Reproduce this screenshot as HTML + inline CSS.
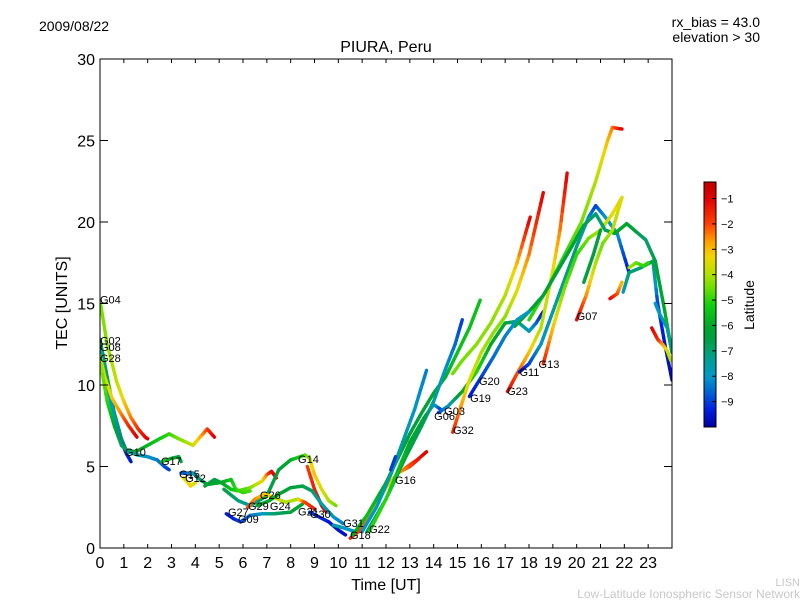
<!DOCTYPE html>
<html><head><meta charset="utf-8"><style>
body{margin:0;background:#fff;}
svg text{font-family:"Liberation Sans","DejaVu Sans",sans-serif;}
</style></head><body>
<svg id="chart" width="800" height="600" xmlns="http://www.w3.org/2000/svg">
<defs>
<linearGradient id="jet" x1="0" y1="1" x2="0" y2="0"></linearGradient>
<clipPath id="clip"><rect x="100" y="59" width="572" height="489"/></clipPath>
</defs>
<text x="39" y="31" font-size="14">2009/08/22</text>
<text x="760" y="27" font-size="14" text-anchor="end">rx_bias = 43.0</text>
<text x="760" y="42" font-size="14" text-anchor="end">elevation &gt; 30</text>
<text x="386" y="52" font-size="16" text-anchor="middle">PIURA, Peru</text>
<g id="tracks" clip-path="url(#clip)"></g>
<g id="labels"></g>
<rect x="100" y="59" width="572" height="489" fill="none" stroke="#000" stroke-width="1"/>
<g id="axes"></g>
<text x="386" y="590" font-size="16" text-anchor="middle">Time [UT]</text>
<text x="0" y="0" font-size="16" text-anchor="middle" transform="translate(67,303) rotate(-90)">TEC [UNITS]</text>
<rect x="704" y="182" width="12" height="245" fill="url(#jet)" stroke="#000" stroke-width="1"/>
<g id="cbticks"></g>
<text x="0" y="0" font-size="14" text-anchor="middle" transform="translate(754,305) rotate(-90)">Latitude</text>
<text x="800" y="586" font-size="11" fill="#c8c8c8" text-anchor="end">LISN</text>
<text x="800" y="598" font-size="12" fill="#c8c8c8" text-anchor="end">Low-Latitude Ionospheric Sensor Network</text>
</svg>
<script>
const xTicks=[0,1,2,3,4,5,6,7,8,9,10,11,12,13,14,15,16,17,18,19,20,21,22,23];
const yTicks=[0,5,10,15,20,25,30];
const cbTicks=[-1,-2,-3,-4,-5,-6,-7,-8,-9];
const trackNames=["G04","G02","G08","G28","G10","G17","G15","G12","W1","G14","G14b","G27","G26","G24","G30","G31","R1","R2","R3","R4","G16","R5","R6","G03","J1","G32","G23","G11","TOP","G13","DG","G07","Q1","R7","S1","T1","U1","V1","G19"];
const trackTimes=[
[0,0.3,0.7,1.0,1.3,1.6,1.9,2.0],
[0,0.3,0.6,0.9,1.1,1.5,2.0,2.5,2.9,3.3,3.9,4.2,4.5,4.8],
[0,0.3,0.6,0.9,1.1,1.3],
[0,0.2,0.5,0.9,1.2,1.55],
[0,0.3,0.6,0.9,1.2,1.6,2.0,2.4,2.7,2.9],
[2.6,3.0,3.3,3.4],
[3.4,3.7,3.9,4.2,4.5,5.0,5.5,5.7,6.0,6.3],
[3.5,3.7,3.8,4.0],
[4.4,4.8,5.1,5.5,5.8,6.3,6.8,7.0,7.2,7.4],
[5.2,5.8,6.3,7.0,7.5,8.0,8.6,8.8,9.0,9.3,9.6,9.9],
[8.7,9.0,9.3,9.5],
[5.3,5.6,5.9,6.3,6.8,7.3,8.0,8.5],
[6.2,6.5,6.9,7.3,7.8,8.3,8.6,9.0],
[6.6,7.1,7.5,8.0,8.5,8.9,9.3,9.8,10.2],
[8.8,9.2,9.6,10.0,10.3],
[9.8,10.3,10.7,11.0],
[10.5,11,11.5,12,12.5,13,13.4],
[10.6,11.2,12,12.5,13,13.5,14,14.5,15,15.5,15.95],
[11,11.6,12.2,12.7,13.2,13.7],
[11.2,12,12.8,13.5,14,14.5,14.9,15.2],
[12.2,12.4],
[12.8,13.3,13.7],
[11.3,12,13,13.6,14.0,14.3],
[14.2,14.6,15.2,15.8,16.4,17.0,17.5,18.0,18.3,18.6],
[14.8,15.2,15.8,16.4,17.0,17.5,18.05],
[14.8,15.1,15.5,16.0,16.5,17.0,17.5,18.0,18.6],
[17.1,17.5,18.0,18.5,19.0,19.3,19.6],
[17.6,18.0,18.5,19.0,19.5,20.0,20.5,20.8,21.2,21.7,22.2],
[18.0,18.8,19.5,20.2,20.8,21.3,21.5,21.9],
[18.6,19.0,19.5,20.0,20.5,21.0,21.5,21.9],
[17.4,18,18.6,19.2,19.8,20.3,20.8,21.2,21.6,22.1,22.5,22.9,23.3,23.7,24],
[20.0,20.4,20.8,21.1,21.5,21.9],
[20.3,20.7,21.0],
[21.4,21.7,21.9],
[21.95,22.2,22.7,23.2,23.4,23.7,24],
[22.2,22.5,22.8,23.0],
[23.15,23.4,23.6,23.8,23.95],
[23.3,23.5,23.8,24],
[15.5,16,16.5,17,17.5,18]
];
const trackTec=[
[15.2,12.5,10.2,9.0,8.0,7.3,6.8,6.7],
[12.8,10.5,8.3,6.7,6.0,5.9,6.3,6.7,7.0,6.7,6.3,6.8,7.3,6.8],
[12.4,10,8,6.5,5.8,5.3],
[11.8,10.5,9.2,8.2,7.5,6.8],
[11.5,9,7.5,6.3,5.9,5.7,5.6,5.4,5.0,4.8],
[5.3,5.5,5.6,5.3],
[4.6,4.6,4.6,4.2,3.9,4.0,4.2,3.6,3.4,3.5],
[4.3,4.0,3.8,4.0],
[3.8,4.2,4.0,3.6,3.5,3.7,4.1,4.5,4.7,4.3],
[3.6,2.9,2.6,3.2,4.8,5.4,5.7,5.5,4.5,3.6,2.9,2.6],
[5,3.6,2.6,2.2],
[2.1,1.8,1.6,2.0,2.1,2.1,2.2,2.7],
[2.5,3.0,3.3,3.1,2.8,3.0,2.8,2.4],
[2.6,2.9,3.3,3.7,3.8,3.5,2.7,1.9,1.5],
[2.2,1.9,1.6,1.1,0.8],
[1.4,1.2,1.0,1.2],
[0.6,1.2,2.5,3.7,4.6,5.0,5.5],
[0.8,2,4,5.5,7,8.3,9.5,10.5,12,13.5,15.2],
[1,2.5,4.5,6.5,8.5,10.9],
[1,3,5.5,7.5,9,11,12.5,14.0],
[4.8,5.6],
[4.9,5.4,5.9],
[1,3,6.5,8,8.8,8.5],
[8.3,8.7,9.6,10.8,12.5,13.8,13.9,13.3,13.8,14.5],
[10.7,11.5,12.5,13.8,15.5,17.5,20.3],
[7.1,8.5,10.3,12,13.2,14.2,15.8,18,21.8],
[9.6,10.7,12.0,13.5,17,19.5,23],
[10.8,11.3,12.5,14.5,16.5,18.5,20.3,21.0,20.3,19.3,16.9],
[14,16,18,20,22.5,25,25.8,25.7],
[11.3,13.5,16,18,19.0,19.5,20.5,21.5],
[13.6,14.5,15.5,17,18.5,19.8,20.5,19.5,19.3,19.9,19.4,18.9,17.6,14.5,12],
[14.0,15.5,17.5,18.7,19.5,21.5],
[16.3,18,19.5],
[15.3,15.6,16.3],
[15.7,16.9,17.2,17.6,15.0,12.5,10.3],
[17.2,17.5,17.3,17.5],
[13.5,12.8,12.5,12.1,11.5],
[15,14.3,13.5,12],
[9.3,10.5,11.7,13,14,14.5]
];
const trackLat=[
[-4.5,-4.3,-3.8,-3.2,-2.5,-1.8,-1.2,-1],
[-6,-6,-6.3,-6.4,-6.5,-6.3,-5.8,-5.3,-5,-4.5,-3.8,-3,-2,-1],
[-7.5,-7.8,-8,-8.5,-9,-9.5],
[-4,-3.7,-3.2,-2.5,-1.7,-1],
[-4,-5,-6,-6.8,-7,-7.5,-8,-8.3,-8.7,-9],
[-5,-6,-6.3,-6.5],
[-9,-8.5,-8,-7,-6.5,-6,-5.5,-5,-5,-4.8],
[-3.5,-3.3,-3.2,-3.5],
[-6,-6.5,-6.3,-5.5,-5,-4.5,-3.5,-2.5,-1.2,-1],
[-6.5,-7,-7.5,-6.5,-6.5,-6,-4.8,-4,-3,-3.5,-4,-4.5],
[-2,-1.5,-1,-1],
[-9.5,-9.3,-9,-8.5,-8,-7,-6.5,-6],
[-2,-2.5,-3,-3.5,-4,-4,-2,-1.5],
[-6,-6,-6,-6.3,-6.5,-7,-7.5,-8,-8.3],
[-9,-9.2,-9.4,-9.5,-9.6],
[-7.5,-8,-8,-7.5],
[-1.5,-2,-2.8,-3.3,-3,-2,-1],
[-6,-5.5,-6,-6.5,-6.5,-6.3,-6,-5.8,-5.5,-5.5,-5.5],
[-8,-8,-7.5,-7.5,-8,-8.3],
[-7,-7,-6.5,-6.8,-7.5,-8,-8.5,-9],
[-9,-9],
[-2.5,-1.5,-1],
[-5,-5,-6,-6.5,-7.5,-9],
[-9,-8,-6,-5,-6,-6.5,-7,-7.7,-8.5,-9.5],
[-4.5,-4.5,-4.3,-4.3,-4,-3,-1],
[-1.5,-2.5,-3.5,-4,-4.3,-4.3,-3.5,-2.5,-1],
[-1,-2,-3,-4,-3.5,-2.5,-1],
[-9.5,-9,-8,-7.5,-7.2,-7,-8,-9,-8,-8,-9.5],
[-5,-5,-5,-4.5,-4,-3,-2.5,-1],
[-1.5,-3,-4.5,-5,-4.5,-4,-3.5,-3],
[-6,-6.2,-6.3,-6.5,-6.5,-6.7,-7,-7,-6,-6,-6.5,-7,-6.5,-6,-5],
[-1,-2.5,-4,-4.5,-4,-3.5],
[-6.5,-6.5,-6.5],
[-1,-2,-3],
[-8,-7,-7,-6.5,-9,-9.5,-9.7],
[-4,-4.5,-5,-5],
[-1,-1.5,-2.5,-3.5,-4],
[-8,-8,-7.5,-7],
[-9.5,-9,-8.5,-8.3,-8,-8]
];
const labelNames=["G04","G02","G08","G28","G10","G17","G15","G12","G14","G26","G29","G24","G27","G09","G21","G30","G31","G18","G22","G16","G32","G06","G03","G19","G20","G23","G11","G13","G07"];
const labelTimes=[0,0,0,0,1.05,2.56,3.32,3.57,8.31,6.71,6.21,7.13,5.37,5.79,8.31,8.81,10.2,10.49,11.29,12.38,14.81,14.02,14.44,15.53,15.9,17.08,17.6,18.4,20.0];
const labelTec=[15.0,12.5,12.1,11.4,5.65,5.1,4.3,4.05,5.2,3.0,2.33,2.33,1.96,1.53,2.0,1.84,1.29,0.55,0.92,3.93,7.0,7.85,8.16,8.96,10.0,9.39,10.55,11.04,14.0];

const X0=100,X1=672,Y0=548,Y1=59;
const xs=t=>X0+(X1-X0)*t/24;
const ys=v=>Y0-(Y0-Y1)*v/30;
const LMIN=-10,LMAX=-0.35,CB_TOP=182,CB_BOT=427;
const cbY=l=>CB_BOT-(CB_BOT-CB_TOP)*(l-LMIN)/(LMAX-LMIN);
const CMAP=[[-10,[0,0,160]],[-9.3,[0,32,224]],[-8.5,[0,112,208]],[-8,[0,152,200]],[-7.3,[0,160,144]],[-6.5,[0,160,64]],[-6,[0,168,40]],[-5.2,[16,208,16]],[-4.5,[112,224,0]],[-4,[176,224,0]],[-3.3,[240,216,0]],[-2.7,[255,160,0]],[-2,[255,64,0]],[-1,[224,0,0]],[-0.35,[192,0,0]]];
function cmap(l){
  if(l<=CMAP[0][0])return 'rgb('+CMAP[0][1].join(',')+')';
  for(let i=0;i<CMAP.length-1;i++){
    const a=CMAP[i],b=CMAP[i+1];
    if(l<=b[0]){const f=(l-a[0])/(b[0]-a[0]);return 'rgb('+a[1].map((c,k)=>Math.round(c+(b[1][k]-c)*f)).join(',')+')';}
  }
  return 'rgb('+CMAP[CMAP.length-1][1].join(',')+')';
}
const NS="http://www.w3.org/2000/svg";
function mk(tag,attrs,parent){const e=document.createElementNS(NS,tag);for(const k in attrs)e.setAttribute(k,attrs[k]);parent.appendChild(e);return e;}
const grad=document.getElementById('jet');
CMAP.forEach(s=>{mk('stop',{offset:(s[0]-LMIN)/(LMAX-LMIN),'stop-color':'rgb('+s[1].join(',')+')'},grad);});
const tg=document.getElementById('tracks');
for(let i=0;i<trackTimes.length;i++){
  const g=mk('g',{},tg);
  
  
  const T=trackTimes[i],V=trackTec[i],L=trackLat[i];
  for(let j=0;j<T.length-1;j++){
    const n=6;
    for(let k=0;k<n;k++){
      const a=k/n,b=(k+1)/n;
      const l=L[j]+(L[j+1]-L[j])*(a+b)/2;
      const s=mk('line',{x1:xs(T[j]+(T[j+1]-T[j])*a),y1:ys(V[j]+(V[j+1]-V[j])*a),x2:xs(T[j]+(T[j+1]-T[j])*b),y2:ys(V[j]+(V[j+1]-V[j])*b),stroke:cmap(l),'stroke-width':3.4,'stroke-linecap':'round'},g);
      
      
    }
  }
}
const lg=document.getElementById('labels');
for(let i=0;i<labelNames.length;i++){
  const t=mk('text',{x:xs(labelTimes[i]),y:ys(labelTec[i]),'font-size':11,fill:'#000'},lg);
  t.textContent=labelNames[i];
  
  
}
const ax=document.getElementById('axes');
xTicks.forEach(v=>{
  const x=xs(v);
  const a=mk('line',{x1:x,y1:Y0,x2:x,y2:Y0-4,stroke:'#000'},ax);
  
  
  const b=mk('line',{x1:x,y1:Y1,x2:x,y2:Y1+4,stroke:'#000'},ax);
  
  
  const t=mk('text',{x:x,y:568,'font-size':16,'text-anchor':'middle'},ax);
  t.textContent=v;
  
  
});
yTicks.forEach(v=>{
  const y=ys(v);
  const a=mk('line',{x1:X0,y1:y,x2:X0+8,y2:y,stroke:'#000'},ax);
  
  
  const b=mk('line',{x1:X1,y1:y,x2:X1-8,y2:y,stroke:'#000'},ax);
  
  
  const t=mk('text',{x:95,y:y+6,'font-size':16,'text-anchor':'end'},ax);
  t.textContent=v;
  
  
});
const cg=document.getElementById('cbticks');
cbTicks.forEach(v=>{
  const y=cbY(v);
  const a=mk('line',{x1:712,y1:y,x2:716,y2:y,stroke:'#000'},cg);
  
  
  const t=mk('text',{x:721,y:y+4,'font-size':11},cg);
  t.textContent='\u2212'+Math.abs(v);
  
  
});
</script>
</body></html>
